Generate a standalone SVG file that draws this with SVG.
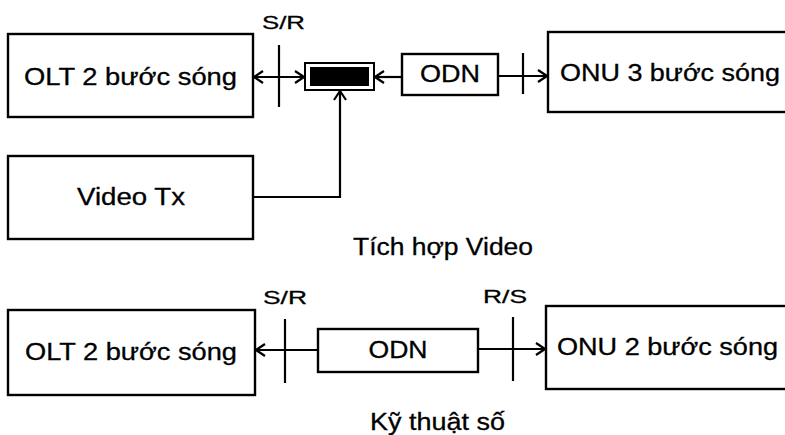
<svg xmlns="http://www.w3.org/2000/svg" width="785" height="435" viewBox="0 0 785 435">
<defs>
<style>
.box{fill:#fff;stroke:#000;stroke-width:2.4}
.t{font-family:"Liberation Sans",Arial,sans-serif;font-size:23px;fill:#000;stroke:#000;stroke-width:0.3}
.lbl{font-family:"Liberation Sans",Arial,sans-serif;font-size:19px;fill:#000;stroke:#000;stroke-width:0.3}
.ln{fill:none;stroke:#000;stroke-width:2.2}
.tick{stroke:#000;stroke-width:2.2}
</style>
<marker id="arr" viewBox="0 0 11 14" refX="10" refY="7" markerWidth="11" markerHeight="14" markerUnits="userSpaceOnUse" orient="auto-start-reverse">
<path d="M1,1 L10,7 L1,13" fill="none" stroke="#000" stroke-width="2.2"/>
</marker>
</defs>
<rect width="785" height="435" fill="#fff"/>

<g id="olt-top">
<rect class="box" x="8" y="34" width="245" height="83"/>
<text class="t" x="24" y="85" textLength="213" lengthAdjust="spacingAndGlyphs">OLT 2 bước sóng</text>
</g>
<g id="coupler">
<rect x="305" y="63" width="69" height="27" fill="#fff" stroke="#000" stroke-width="2"/>
<rect x="310" y="67" width="59" height="19" fill="#000"/>
</g>
<g id="odn-top">
<rect class="box" x="402" y="54" width="96" height="41"/>
<text class="t" x="450" y="82" text-anchor="middle" textLength="60" lengthAdjust="spacingAndGlyphs">ODN</text>
</g>
<g id="onu-top">
<rect class="box" x="548" y="32" width="245" height="80"/>
<text class="t" x="560" y="81" textLength="220" lengthAdjust="spacingAndGlyphs">ONU 3 bước sóng</text>
</g>
<g id="video-tx">
<rect class="box" x="8" y="156" width="245" height="83"/>
<text class="t" x="77" y="205" textLength="108" lengthAdjust="spacingAndGlyphs">Video Tx</text>
</g>
<g id="olt-bottom">
<rect class="box" x="8" y="310" width="247" height="85"/>
<text class="t" x="25" y="360" textLength="212" lengthAdjust="spacingAndGlyphs">OLT 2 bước sóng</text>
</g>
<g id="odn-bottom">
<rect class="box" x="318" y="329" width="160" height="43"/>
<text class="t" x="398" y="358" text-anchor="middle" textLength="59" lengthAdjust="spacingAndGlyphs">ODN</text>
</g>
<g id="onu-bottom">
<rect class="box" x="546" y="306" width="247" height="83"/>
<text class="t" x="557" y="355" textLength="221" lengthAdjust="spacingAndGlyphs">ONU 2 bước sóng</text>
</g>

<g id="connectors">
<line class="ln" x1="254" y1="77" x2="304" y2="77" marker-start="url(#arr)" marker-end="url(#arr)"/>
<line class="tick" x1="279" y1="45" x2="279" y2="107"/>
<line class="ln" x1="402" y1="77" x2="375" y2="77" marker-end="url(#arr)"/>
<line class="ln" x1="498" y1="76" x2="547" y2="76" marker-end="url(#arr)"/>
<line class="tick" x1="523" y1="53" x2="523" y2="94"/>
<polyline class="ln" points="253,197 340,197 340,91" marker-end="url(#arr)"/>
<line class="ln" x1="318" y1="350" x2="256" y2="350" marker-end="url(#arr)"/>
<line class="tick" x1="285" y1="319" x2="285" y2="383"/>
<line class="ln" x1="478" y1="349" x2="545" y2="349" marker-end="url(#arr)"/>
<line class="tick" x1="513" y1="317" x2="513" y2="381"/>
</g>

<g id="labels">
<text class="lbl" x="262" y="29" textLength="43" lengthAdjust="spacingAndGlyphs">S/R</text>
<text class="lbl" x="263" y="304" textLength="44" lengthAdjust="spacingAndGlyphs">S/R</text>
<text class="lbl" x="483" y="303" textLength="44" lengthAdjust="spacingAndGlyphs">R/S</text>
<text class="t" x="353" y="255" font-size="21" textLength="180" lengthAdjust="spacingAndGlyphs">Tích hợp Video</text>
<text class="t" x="370" y="430" font-size="21" textLength="135" lengthAdjust="spacingAndGlyphs">Kỹ thuật số</text>
</g>
</svg>
